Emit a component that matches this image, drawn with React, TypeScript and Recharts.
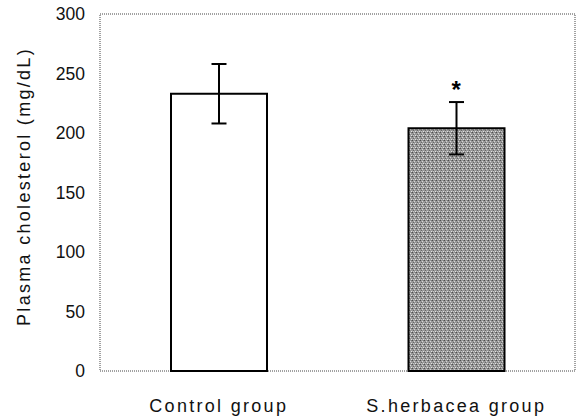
import {
  Bar,
  Cell,
  ComposedChart,
  ErrorBar,
  ReferenceArea,
  Scatter,
  XAxis,
  YAxis,
} from "recharts";

const groups = ["Control group", "S.herbacea group"];
const cholesterol = [233, 204];
const cholesterolSd = [25, 22];
const significant = [false, true];
const yTicks = [0, 50, 100, 150, 200, 250, 300];

const FONT = '"Liberation Sans", Arial, sans-serif';
const frameStroke = "#444";
const barFills = ["#ffffff", "url(#stipple)"];

const data = groups.map((group, i) => ({
  group,
  value: cholesterol[i],
  sd: cholesterolSd[i],
  starAt: significant[i] ? cholesterol[i] + cholesterolSd[i] : null,
}));

function GroupTick({ x, y, payload }: any) {
  return (
    <text
      x={x}
      y={y}
      dy="0.71em"
      textAnchor="middle"
      fontFamily={FONT}
      fontSize={18}
      fill="#111"
      style={{ letterSpacing: 2.3 }}
    >
      {payload.value}
    </text>
  );
}

function YTitle({ viewBox }: any) {
  const cx = 24;
  const cy = viewBox.y + viewBox.height / 2 - 6;
  return (
    <text
      x={cx}
      y={cy}
      transform={`rotate(-90 ${cx} ${cy})`}
      textAnchor="middle"
      dominantBaseline="central"
      fontFamily={FONT}
      fontSize={18}
      fill="#111"
      style={{ letterSpacing: 2.3 }}
    >
      Plasma cholesterol (mg/dL)
    </text>
  );
}

function Star({ cx, cy }: any) {
  if (cy == null || Number.isNaN(cy)) return <g />;
  return (
    <text x={cx} y={cy - 4} textAnchor="middle" fontFamily={FONT} fontSize={24} fontWeight="bold" fill="#000">
      *
    </text>
  );
}

export default function App() {
  return (
    <div style={{ position: "absolute", left: 0, top: 0, background: "#fff" }}>
      <ComposedChart
        width={579}
        height={418}
        data={data}
        margin={{ top: 14, right: 4, bottom: 0, left: 0 }}
      >
        <defs>
          <pattern id="stipple" width="4" height="4" patternUnits="userSpaceOnUse">
            <rect width="4" height="4" fill="#989898" />
            <rect x="0" y="0" width="1" height="1" fill="#4e4e4e" />
            <rect x="2" y="1" width="1" height="1" fill="#d6d6d6" />
            <rect x="1" y="2" width="1" height="1" fill="#666666" />
            <rect x="3" y="3" width="1" height="1" fill="#e2e2e2" />
            <rect x="3" y="0" width="1" height="1" fill="#7a7a7a" />
            <rect x="1" y="3" width="1" height="1" fill="#c4c4c4" />
          </pattern>
        </defs>
        <XAxis
          dataKey="group"
          height={47}
          tickLine={false}
          tickSize={0}
          tickMargin={28}
          tick={<GroupTick />}
          axisLine={false}
        />
        <YAxis
          width={100}
          domain={[0, 300]}
          ticks={yTicks}
          interval={0}
          tickLine={false}
          tickSize={0}
          tickMargin={15}
          tick={{ fontFamily: FONT, fontSize: 17.5, fill: "#111" }}
          axisLine={false}
          label={<YTitle />}
        />
        <ReferenceArea
          y1={0}
          y2={300}
          fill="none"
          stroke={frameStroke}
          strokeDasharray="1 1"
          ifOverflow="visible"
        />
        <Bar dataKey="value" barSize={96} stroke="#000" strokeWidth={2} isAnimationActive={false}>
          {data.map((d, i) => (
            <Cell key={d.group} fill={barFills[i]} />
          ))}
          <ErrorBar dataKey="sd" width={7.5} stroke="#000" strokeWidth={2} />
        </Bar>
        <Scatter dataKey="starAt" shape={<Star />} isAnimationActive={false} />
      </ComposedChart>
    </div>
  );
}
